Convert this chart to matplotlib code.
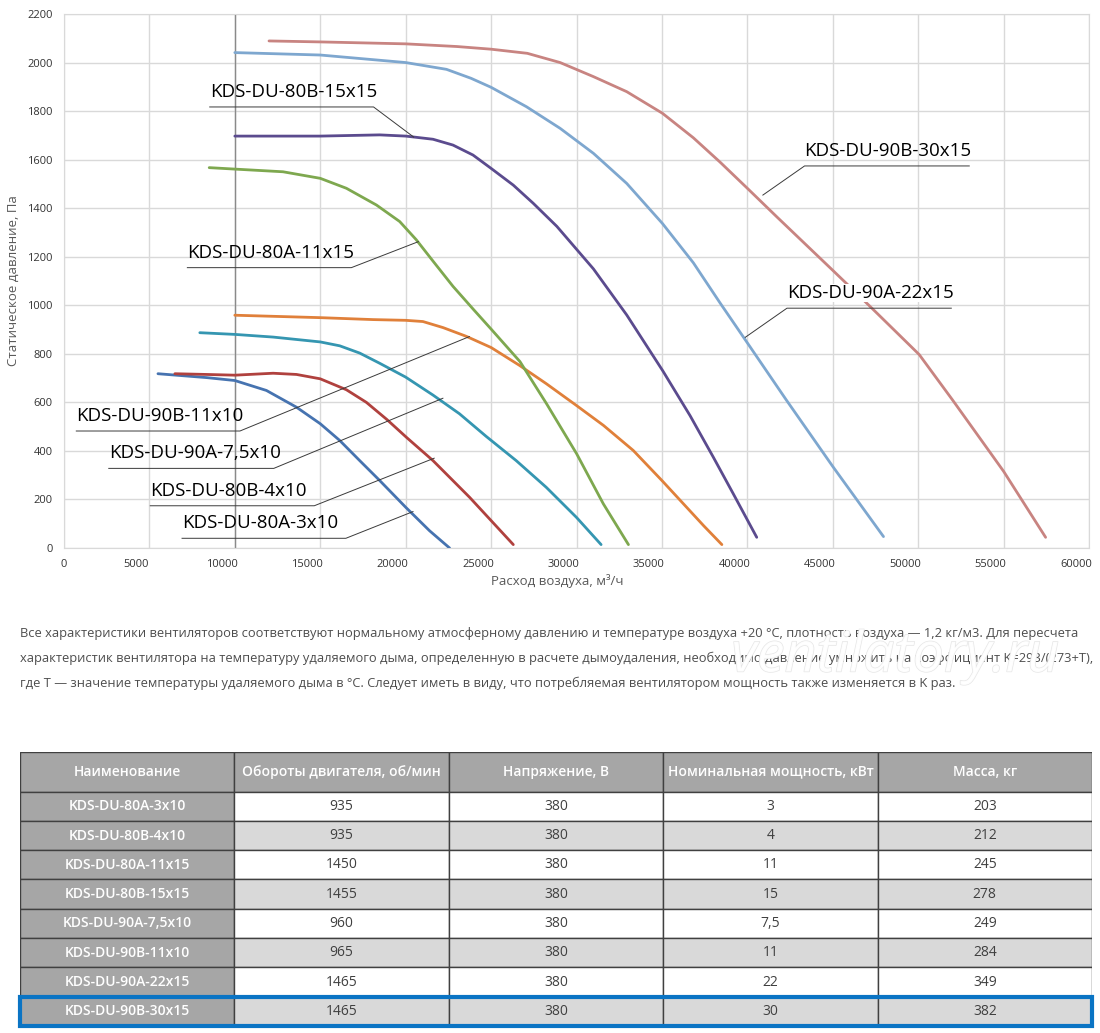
import matplotlib.pyplot as plt
from matplotlib.patches import Rectangle
import matplotlib.patheffects as pe
import matplotlib.transforms as mtransforms

plt.rcParams['font.family'] = ['Open Sans', 'DejaVu Sans']

# fan curves: air flow (m3/h) and static pressure (Pa)
q_80a_3 = [5500, 8350, 10000, 11850, 13610, 15000, 16140, 17310, 18480, 20000, 21400, 22570]
p_80a_3 = [718, 702, 690, 649, 580, 512, 443, 360, 278, 168, 71, 0]

q_80b_4 = [6490, 8350, 10000, 12240, 13610, 15000, 16530, 17700, 18890, 20060, 21600, 23740, 26300]
p_80b_4 = [718, 715, 712, 720, 715, 697, 652, 600, 530, 455, 360, 209, 14]

q_90a_75 = [7950, 10000, 12240, 15000, 16140, 17310, 18480, 20000, 21600, 23150, 24710,
            26470, 28230, 30000, 31440]
p_90a_75 = [887, 880, 869, 849, 833, 803, 761, 704, 630, 553, 460, 360, 250, 126, 14]

q_90b_11 = [10000, 15000, 18090, 20000, 21010, 22190, 23550, 25000, 26670, 28230, 30000,
            31580, 33320, 35000, 36260, 37440, 38510]
p_90b_11 = [959, 949, 941, 938, 933, 908, 872, 826, 752, 677, 587, 505, 402, 278, 182, 92, 14]

q_80a_11 = [8500, 10000, 12820, 15000, 16530, 18290, 19650, 20620, 21600, 22770, 23940,
            25000, 26690, 28250, 30010, 31570, 33040]
p_80a_11 = [1567, 1561, 1550, 1523, 1482, 1413, 1345, 1270, 1182, 1078, 985, 902, 768, 594,
            388, 182, 14]

q_80b_15 = [10000, 15000, 18480, 20000, 21600, 22770, 23940, 25000, 26300, 27470, 28850,
            30990, 32940, 35050, 36650, 38010, 39180, 40550]
p_80b_15 = [1697, 1697, 1702, 1697, 1684, 1660, 1619, 1564, 1495, 1420, 1325, 1150, 960,
            730, 545, 374, 223, 44]

q_90a_22 = [10000, 15000, 20000, 22390, 23830, 25000, 27070, 29040, 30990, 32940, 35030,
            36840, 38400, 39760, 42270, 45000, 47970]
p_90a_22 = [2041, 2031, 2000, 1972, 1935, 1898, 1818, 1729, 1626, 1502, 1337, 1175, 1010,
            870, 611, 336, 47]

q_90b_30 = [12000, 15000, 20000, 23000, 25000, 27120, 29040, 30990, 32940, 35030, 36840,
            38400, 40000, 41730, 43900, 45000, 46020, 47580, 50060, 52000, 55000, 57460]
p_90b_30 = [2089, 2085, 2077, 2066, 2055, 2038, 2000, 1942, 1880, 1791, 1690, 1590, 1482,
            1364, 1218, 1144, 1075, 968, 797, 611, 316, 44]

names = ["KDS-DU-80A-3x10", "KDS-DU-80B-4x10", "KDS-DU-80A-11x15", "KDS-DU-80B-15x15",
         "KDS-DU-90A-7,5x10", "KDS-DU-90B-11x10", "KDS-DU-90A-22x15", "KDS-DU-90B-30x15"]
rpm = ["935", "935", "1450", "1455", "960", "965", "1465", "1465"]
voltage = ["380"] * 8
power = ["3", "4", "11", "15", "7,5", "11", "22", "30"]
mass = ["203", "212", "245", "278", "249", "284", "349", "382"]
headers = ["Наименование", "Обороты двигателя, об/мин", "Напряжение, В",
           "Номинальная мощность, кВт", "Масса, кг"]

curves = [
    (q_80a_3, p_80a_3, '#4673b0'),
    (q_80b_4, p_80b_4, '#b0413e'),
    (q_90a_75, p_90a_75, '#3596b1'),
    (q_90b_11, p_90b_11, '#e0803a'),
    (q_80a_11, p_80a_11, '#7ea84f'),
    (q_80b_15, p_80b_15, '#5b4b8e'),
    (q_90a_22, p_90a_22, '#7ea7cf'),
    (q_90b_30, p_90b_30, '#c88481'),
]

# label: (underline x0, underline x1, y, leader end x, leader end y)
leaders = [
    ("KDS-DU-80B-15x15", 8530, 18120, 1817, 20470, 1693),
    ("KDS-DU-80A-11x15", 7220, 16820, 1155, 20740, 1262),
    ("KDS-DU-90B-11x10", 720, 10300, 482, 23730, 871),
    ("KDS-DU-90A-7,5x10", 2620, 12280, 328, 22180, 617),
    ("KDS-DU-80B-4x10", 5050, 14650, 174, 21670, 370),
    ("KDS-DU-80A-3x10", 6910, 16500, 40, 20430, 150),
    ("KDS-DU-90B-30x15", 43350, 52990, 1574, 40910, 1454),
    ("KDS-DU-90A-22x15", 42320, 51940, 988, 39880, 868),
]

fig = plt.figure(figsize=(11, 10.33), dpi=100)
ax = fig.add_axes([64 / 1100, 485 / 1033, 1025 / 1100, 534 / 1033])

for q, p, c in curves:
    ax.plot(q, p, color=c, lw=2.0, solid_capstyle='round', solid_joinstyle='round', zorder=3)

ax.axvline(10000, color='#8a8a8a', lw=1, zorder=1)

for lab, x0, x1, y, xe, ye in leaders:
    ax.plot([xe, x1, x0] if xe > x1 else [xe, x0, x1],
            [ye, y, y], color='#3a3a3a', lw=0.7, zorder=4)
    bbox = dict(fc='white', ec='none', pad=0) if lab == "KDS-DU-90A-22x15" else None
    ax.text(x0, y + 25, lab, fontsize=13.5, color='black', ha='left', va='bottom',
            zorder=5, bbox=bbox)

ax.set_xlim(0, 60000)
ax.set_ylim(0, 2200)
ax.set_xticks(range(0, 60001, 5000))
ax.set_yticks(range(0, 2201, 200))
ax.grid(True, color='#d9d9d9', lw=1)
ax.set_axisbelow(True)
for s in ax.spines.values():
    s.set_color('#d9d9d9')
ax.tick_params(length=0, labelsize=8, colors='#333333', pad=8)
shift = mtransforms.ScaledTranslation(-13 / 100, 0, fig.dpi_scale_trans)
for lbl in ax.get_xticklabels()[1:]:
    lbl.set_transform(lbl.get_transform() + shift)
ax.set_ylabel('Статическое давление, Па', fontsize=9.5, color='#595959')
ax.set_xlabel('Расход воздуха, м³/ч', fontsize=9.5, color='#595959')
ax.yaxis.set_label_coords(-0.043, 0.5)
ax.xaxis.set_label_coords(0.481, -0.048)

notes = [
    "Все характеристики вентиляторов соответствуют нормальному атмосферному давлению и температуре воздуха +20 °C, плотность воздуха — 1,2 кг/м3. Для пересчета",
    "характеристик вентилятора на температуру удаляемого дыма, определенную в расчете дымоудаления, необходимо давление умножить на коэффициент K=293/(273+T),",
    "где T — значение температуры удаляемого дыма в °C. Следует иметь в виду, что потребляемая вентилятором мощность также изменяется в K раз.",
]
note_texts = []
for i, line in enumerate(notes):
    t = fig.text(20 / 1100, 1 - (634 + 24.5 * i) / 1033, line, fontsize=10,
                 color='#4d4d4d', va='center', ha='left')
    note_texts.append(t)

# shrink the note lines so the first one spans the same width as in the source
renderer = fig.canvas.get_renderer()
w = note_texts[0].get_window_extent(renderer).width
for t in note_texts:
    t.set_fontsize(10 * 1052 / w)

fig.text(895 / 1100, 1 - 657 / 1033, "ventilatory.ru", fontsize=40, style='italic',
         color='white', ha='center', va='center', alpha=0.9,
         path_effects=[pe.withStroke(linewidth=1.0, foreground='#e4e4e4')])

# table
ax_t = fig.add_axes([20 / 1100, 7 / 1033, 1072 / 1100, 274 / 1033])
header_h = 1.35
ax_t.set_xlim(0, 5)
ax_t.set_ylim(len(names) + header_h, 0)
ax_t.axis('off')

for j, h in enumerate(headers):
    ax_t.add_patch(Rectangle((j, 0), 1, header_h, fc='#a6a6a6', ec='#404040', lw=1))
    ax_t.text(j + 0.5, header_h / 2, h, ha='center', va='center', fontsize=10,
              color='white', fontweight='semibold')

columns = [names, rpm, voltage, power, mass]
for i in range(len(names)):
    y = header_h + i
    for j, col in enumerate(columns):
        if j == 0:
            fc = '#a6a6a6'
        else:
            fc = 'white' if i % 2 == 0 else '#d9d9d9'
        ax_t.add_patch(Rectangle((j, y), 1, 1, fc=fc, ec='#404040', lw=1))
        ax_t.text(j + 0.5, y + 0.5, col[i], ha='center', va='center', fontsize=10,
                  color='white' if j == 0 else '#404040',
                  fontweight='semibold' if j == 0 else 'normal')

ax_t.add_patch(Rectangle((0, header_h + len(names) - 1), 5, 1, fill=False,
                         ec='#0a74c4', lw=3, clip_on=False, zorder=5))

fig.savefig('out.png', dpi=100)
